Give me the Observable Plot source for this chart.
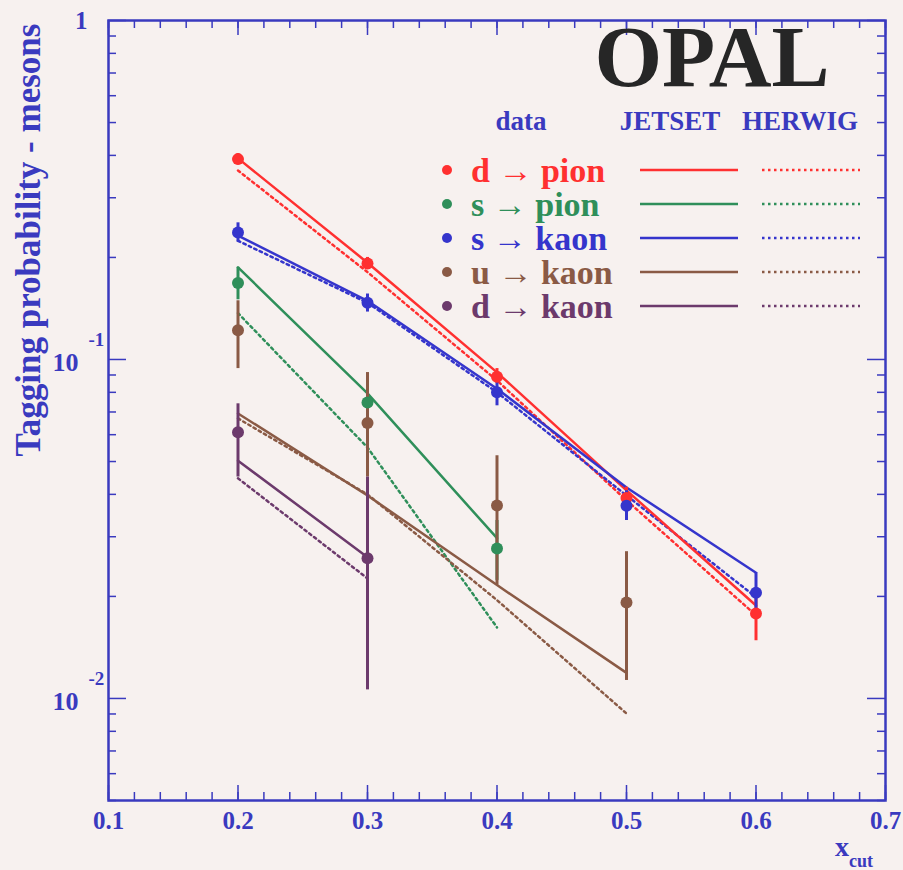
<!DOCTYPE html>
<html><head><meta charset="utf-8">
<script src="https://cdn.jsdelivr.net/npm/d3@7"></script>
<script src="https://cdn.jsdelivr.net/npm/@observablehq/plot@0.6"></script>
<style>
html,body{margin:0;padding:0;background:#f7f1ef;}
#wrap{position:relative;width:903px;height:870px;overflow:hidden;}
#wrap svg{position:absolute;left:0;top:0;}
</style></head><body><div id="wrap"></div>
<script>
// ---------- data ----------
const xcut = [0.2, 0.3, 0.4, 0.5, 0.6];

// measured data points (value, lower, upper)
const dPionVal = [0.39, 0.192, 0.089, 0.039, 0.0178];
const dPionLo  = [0.375, 0.185, 0.085, 0.036, 0.0148];
const dPionHi  = [0.405, 0.200, 0.094, 0.042, 0.0208];

const sPionVal = [0.168, 0.0747, 0.0277];
const sPionLo  = [0.150, 0.0670, 0.0223];
const sPionHi  = [0.187, 0.0830, 0.0335];

const sKaonVal = [0.237, 0.147, 0.080, 0.037, 0.0205];
const sKaonLo  = [0.222, 0.138, 0.073, 0.0335, 0.0180];
const sKaonHi  = [0.253, 0.156, 0.087, 0.0410, 0.0235];

const uKaonVal = [0.122, 0.065, 0.0371, 0.0192];
const uKaonLo  = [0.094, 0.045, 0.0216, 0.0113];
const uKaonHi  = [0.149, 0.0915, 0.052, 0.0271];

const dKaonVal = [0.061, 0.0259];
const dKaonLo  = [0.045, 0.0106];
const dKaonHi  = [0.074, 0.045];

// model predictions
const jetsetDPion = [0.392, 0.193, 0.0916, 0.0411, 0.0188];
const herwigDPion = [0.361, 0.181, 0.0867, 0.0384, 0.0176];
const jetsetSPion = [0.187, 0.0794, 0.0297];
const herwigSPion = [0.137, 0.055, 0.0162];
const jetsetSKaon = [0.232, 0.149, 0.082, 0.0419, 0.0235];
const herwigSKaon = [0.224, 0.147, 0.080, 0.0397, 0.0199];
const jetsetUKaon = [0.0693, 0.0397, 0.0216, 0.0119];
const herwigUKaon = [0.067, 0.040, 0.0195, 0.00903];
const jetsetDKaon = [0.0503, 0.0261];
const herwigDKaon = [0.0446, 0.0226];

// axis ticks
const xTickLabels = [0.1, 0.2, 0.3, 0.4, 0.5, 0.6, 0.7];
const xMinorTicks = d3.range(0, 31).map(i => +(0.1 + i * 0.02).toFixed(2));
const yMajorTicks = [1, 0.1, 0.01];
const yMinorTicks = [0.005,0.006,0.007,0.008,0.009,0.02,0.03,0.04,0.05,0.06,0.07,0.08,0.09,0.2,0.3,0.4,0.5,0.6,0.7,0.8,0.9];
const yOneLabel   = [{v: 1, t: "1"}];
const yBaseLabels = [{v: 0.1, t: "10"}, {v: 0.01, t: "10"}];
const yExpLabels  = [{v: 0.1, t: "-1"}, {v: 0.01, t: "-2"}];

// series meta
const series = [
  {name: "d → pion", color: "#ff3030", val: dPionVal, lo: dPionLo, hi: dPionHi, jet: jetsetDPion, her: herwigDPion},
  {name: "s → pion", color: "#2f8f5a", val: sPionVal, lo: sPionLo, hi: sPionHi, jet: jetsetSPion, her: herwigSPion},
  {name: "s → kaon", color: "#3535cc", val: sKaonVal, lo: sKaonLo, hi: sKaonHi, jet: jetsetSKaon, her: herwigSKaon},
  {name: "u → kaon", color: "#8a5a45", val: uKaonVal, lo: uKaonLo, hi: uKaonHi, jet: jetsetUKaon, her: herwigUKaon},
  {name: "d → kaon", color: "#6c3a6c", val: dKaonVal, lo: dKaonLo, hi: dKaonHi, jet: jetsetDKaon, her: herwigDKaon}
];

// ---------- build tables ----------
const points = [], jetRows = [], herRows = [];
series.forEach(s => {
  s.val.forEach((v, i) => points.push({s: s.name, c: s.color, x: xcut[i], y: v, lo: s.lo[i], hi: s.hi[i]}));
  s.jet.forEach((v, i) => jetRows.push({s: s.name, c: s.color, x: xcut[i], y: v}));
  s.her.forEach((v, i) => herRows.push({s: s.name, c: s.color, x: xcut[i], y: v}));
});

const AX = "#3a3abf";
const FONT = "'Liberation Serif', 'Times New Roman', serif";
const W = 903, H = 870, ML = 108, MR = 18, MT = 20, MB = 70;
const FW = W - ML - MR, FH = H - MT - MB;

const plot = Plot.plot({
  width: W, height: H,
  marginLeft: ML, marginRight: MR, marginTop: MT, marginBottom: MB,
  style: {background: "transparent", fontFamily: FONT},
  x: {domain: [0.1, 0.7], axis: null},
  y: {type: "log", domain: [0.005, 1], axis: null},
  color: {type: "identity"},
  marks: [
    // ticks inside frame
    Plot.tickX(xMinorTicks, {x: d => d, stroke: AX, strokeWidth: 1.5, insetTop: FH - 8}),
    Plot.tickX(xMinorTicks, {x: d => d, stroke: AX, strokeWidth: 1.5, insetBottom: FH - 8}),
    Plot.tickX(xTickLabels, {x: d => d, stroke: AX, strokeWidth: 1.5, insetTop: FH - 15}),
    Plot.tickX(xTickLabels, {x: d => d, stroke: AX, strokeWidth: 1.5, insetBottom: FH - 15}),
    Plot.tickY(yMinorTicks, {y: d => d, stroke: AX, strokeWidth: 1.5, insetRight: FW - 8}),
    Plot.tickY(yMinorTicks, {y: d => d, stroke: AX, strokeWidth: 1.5, insetLeft: FW - 8}),
    Plot.tickY(yMajorTicks, {y: d => d, stroke: AX, strokeWidth: 1.5, insetRight: FW - 18}),
    Plot.tickY(yMajorTicks, {y: d => d, stroke: AX, strokeWidth: 1.5, insetLeft: FW - 18}),
    Plot.frame({stroke: AX, strokeWidth: 2.5}),
    // x tick labels
    Plot.axisX({ticks: xTickLabels, tickSize: 0, tickPadding: 11, tickFormat: d3.format(".1f"),
      color: AX, fontSize: 25, fontWeight: "bold", label: null}),
    // y tick labels
    Plot.text(yOneLabel, {y: "v", text: "t", frameAnchor: "left", textAnchor: "end", dx: -21,
      fill: AX, fontSize: 25, fontWeight: "bold"}),
    Plot.text(yBaseLabels, {y: "v", text: "t", frameAnchor: "left", textAnchor: "end", dx: -30, dy: 3,
      fill: AX, fontSize: 26, fontWeight: "bold"}),
    Plot.text(yExpLabels, {y: "v", text: "t", frameAnchor: "left", textAnchor: "start", dx: -20, dy: -20,
      fill: AX, fontSize: 19, fontWeight: "bold"}),
    // HERWIG (dotted)
    Plot.line(herRows, {x: "x", y: "y", z: "s", stroke: "c", strokeWidth: 2.5, strokeDasharray: "2.5,3.5"}),
    // JETSET (solid)
    Plot.line(jetRows, {x: "x", y: "y", z: "s", stroke: "c", strokeWidth: 2.5}),
    // data error bars and points
    Plot.ruleX(points, {x: "x", y1: "lo", y2: "hi", stroke: "c", strokeWidth: 3}),
    Plot.dot(points, {x: "x", y: "y", fill: "c", r: 6})
  ]
});

const wrap = document.getElementById("wrap");
wrap.appendChild(plot);

// ---------- overlay: titles, OPAL and legend ----------
const ov = d3.select(wrap).append("svg").attr("width", W).attr("height", H)
  .style("font-family", FONT).style("font-weight", "bold");

// y title
ov.append("text").attr("transform", "translate(40,240) rotate(-90)")
  .attr("text-anchor", "middle").attr("fill", AX).attr("font-size", 35)
  .text("Tagging probability - mesons");

// x title with subscript
const xt = ov.append("text").attr("x", 835).attr("y", 856).attr("fill", AX).attr("font-size", 28);
xt.append("tspan").text("x");
xt.append("tspan").attr("font-size", 18).attr("dy", 11).text("cut");

// OPAL
ov.append("text").attr("x", 712).attr("y", 86).attr("text-anchor", "middle")
  .attr("fill", "#262626").attr("font-size", 87).text("OPAL");

// legend header
const head = [{t: "data", x: 521}, {t: "JETSET", x: 670}, {t: "HERWIG", x: 800}];
ov.selectAll(".hd").data(head).join("text").attr("x", d => d.x).attr("y", 130)
  .attr("text-anchor", "middle").attr("fill", AX).attr("font-size", 27).text(d => d.t);

// legend rows
series.forEach((s, i) => {
  const y = 170 + i * 34;
  ov.append("circle").attr("cx", 447).attr("cy", y).attr("r", 5).attr("fill", s.color);
  ov.append("text").attr("x", 471).attr("y", y).attr("dy", "0.35em").attr("fill", s.color)
    .attr("font-size", 34).text(s.name);
  ov.append("line").attr("x1", 640).attr("x2", 738).attr("y1", y).attr("y2", y)
    .attr("stroke", s.color).attr("stroke-width", 2.5);
  ov.append("line").attr("x1", 762).attr("x2", 860).attr("y1", y).attr("y2", y)
    .attr("stroke", s.color).attr("stroke-width", 2.5).attr("stroke-dasharray", "2.5,3.5");
});
</script></body></html>
